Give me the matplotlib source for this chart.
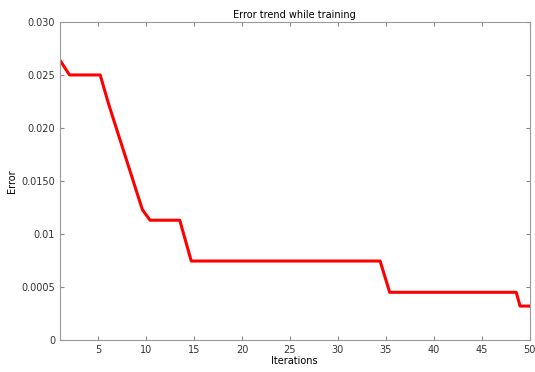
import matplotlib
matplotlib.use("Agg")
import matplotlib.pyplot as plt

# data
iterations = [1, 2, 5.2, 6.1, 9.6, 10.4, 13.5, 14.7, 34.4, 35.4, 48.6, 49.0, 50]
error = [0.0264, 0.0250, 0.0250, 0.0222, 0.0123, 0.0113, 0.0113, 0.00745,
         0.00745, 0.0045, 0.0045, 0.0032, 0.0032]

yticks = [0, 0.005, 0.010, 0.015, 0.020, 0.025, 0.030]
ytick_labels = ["0", "0.0005", "0.01", "0.0150", "0.020", "0.025", "0.030"]
xticks = [5, 10, 15, 20, 25, 30, 35, 40, 45, 50]

fig = plt.figure(figsize=(5.35, 3.72), dpi=100)
ax = fig.add_axes([0.112, 0.086, 0.878, 0.855])
ax.plot(iterations, error, color="red", linewidth=2.2)

ax.set_xlim(1, 50)
ax.set_ylim(0, 0.030)
ax.set_xticks(xticks)
ax.set_yticks(yticks)
ax.set_yticklabels(ytick_labels)
ax.tick_params(direction="in", length=3, labelsize=7, colors="#333333",
               top=True, right=True, color="#888888")
for s in ax.spines.values():
    s.set_color("#999999")

ax.set_title("Error trend while training", fontsize=7, pad=3)
ax.set_xlabel("Iterations", fontsize=7, labelpad=1)
ax.set_ylabel("Error", fontsize=7, labelpad=3)

fig.savefig("out.png", dpi=100)
